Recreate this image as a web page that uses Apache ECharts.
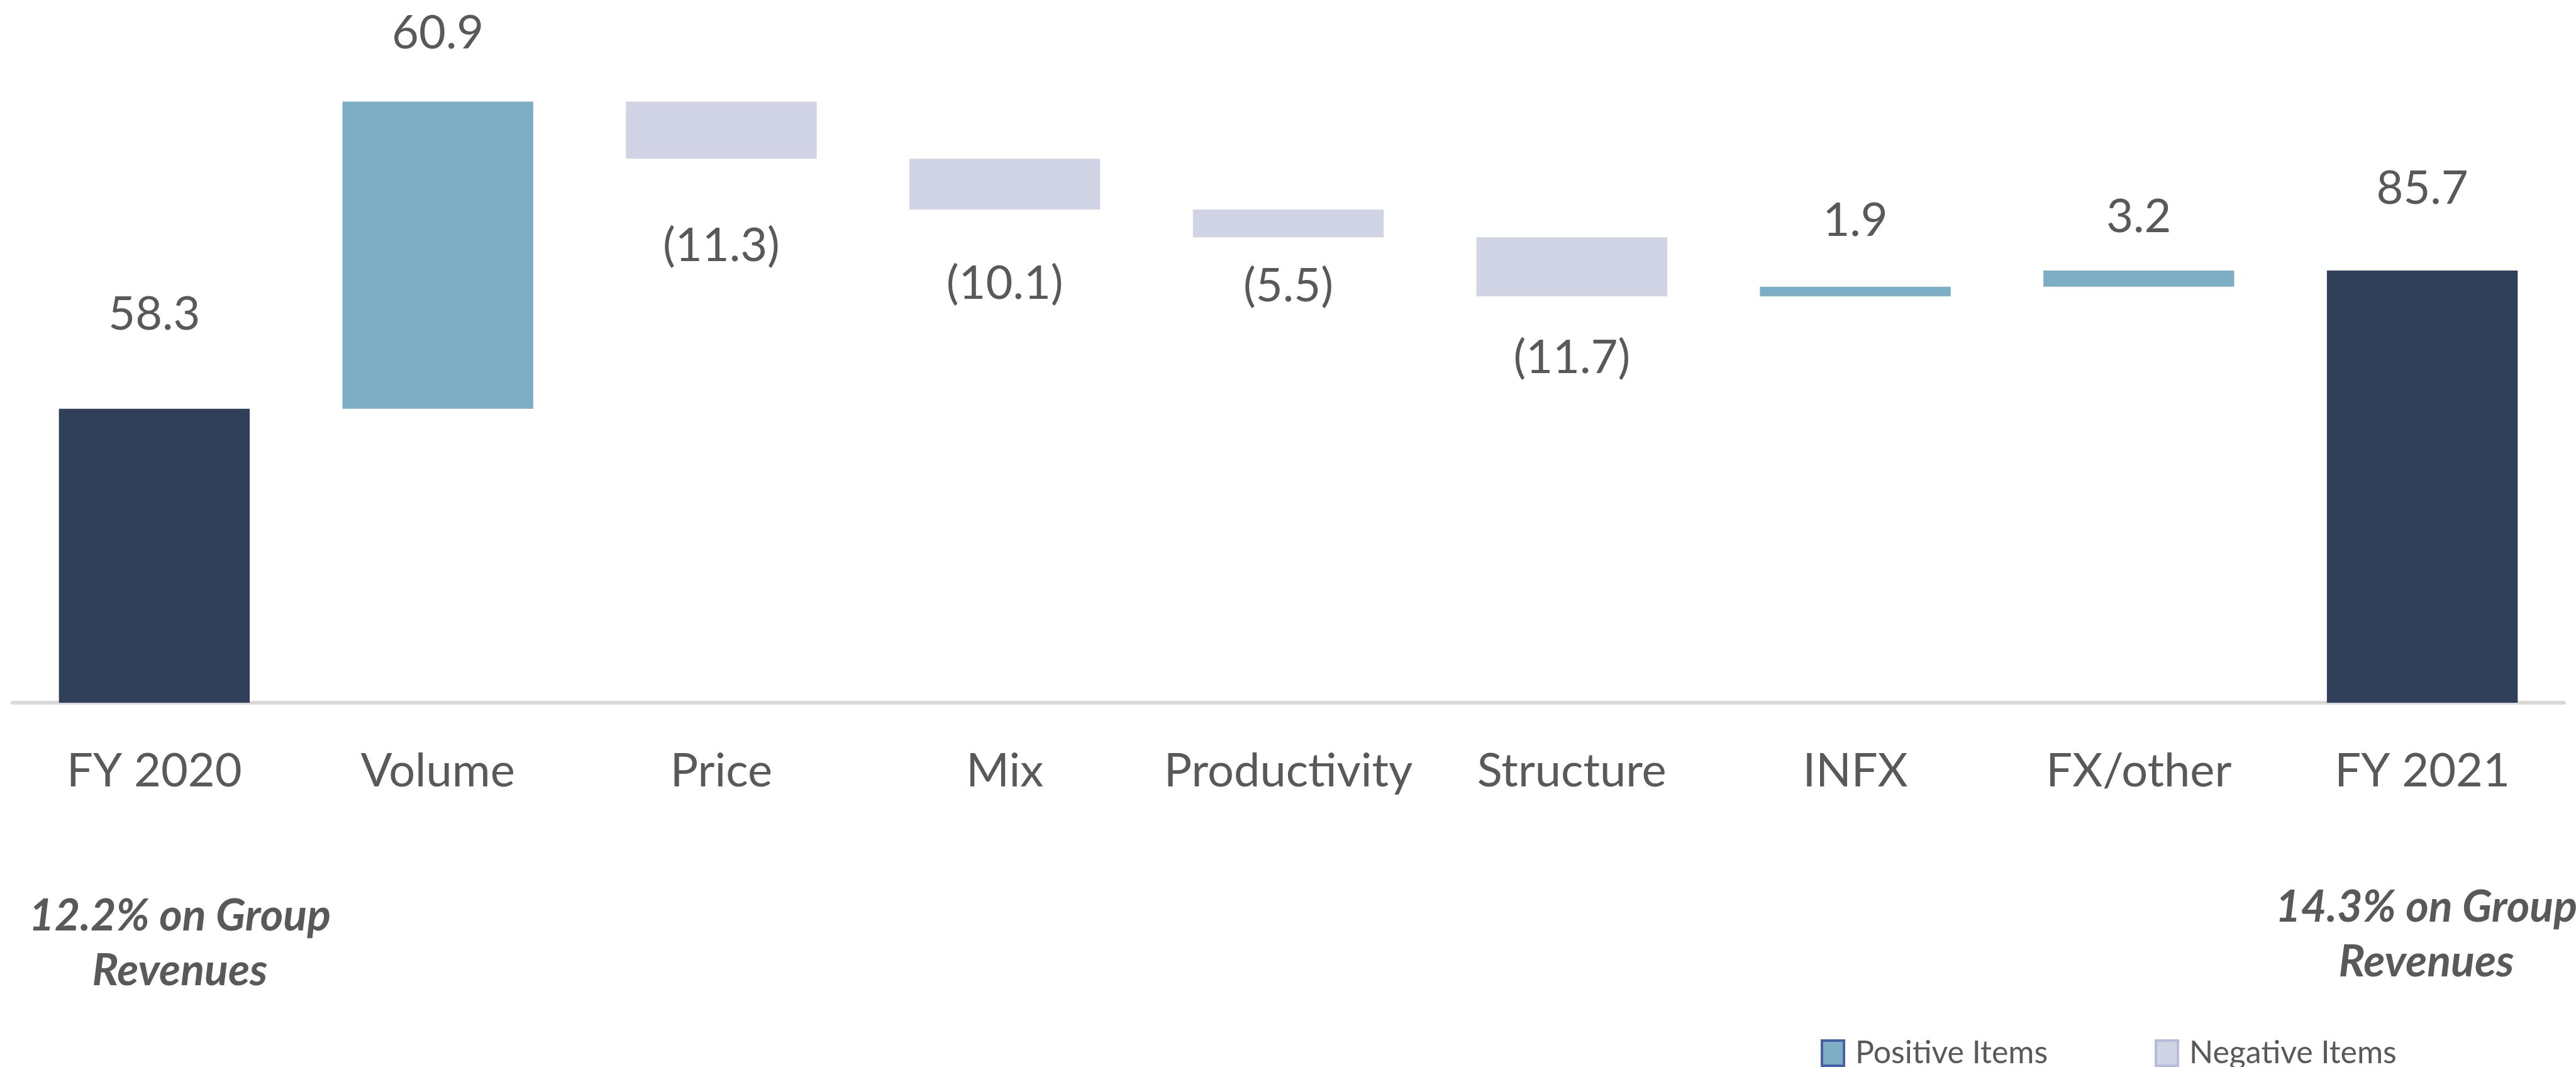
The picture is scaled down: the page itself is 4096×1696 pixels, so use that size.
<!DOCTYPE html>
<html>
<head>
<meta charset="utf-8">
<script src="https://cdn.jsdelivr.net/npm/echarts@6/dist/echarts.min.js"></script>
<style>
  html, body { margin: 0; padding: 0; background: #fff; }
  #chart { width: 4096px; height: 1696px; }
</style>
</head>
<body>
<div id="chart"></div>
<script>
// categories and values of the bridge
var categories = ['FY 2020', 'Volume', 'Price', 'Mix', 'Productivity', 'Structure', 'INFX', 'FX/other', 'FY 2021'];
var changes = [58.3, 60.9, -11.3, -10.1, -5.5, -11.7, 1.9, 3.2, 85.7];
var isTotal = [true, false, false, false, false, false, false, false, true];
var notes = ['12.2% on Group\nRevenues', '14.3% on Group\nRevenues'];

// label gap to bar edge (px), per bar
var labelDist = [113, 71, 102, 81, 41, 61, 68, 48, 93];

var TXT = '#595959';
var FONT = 'Lato';

// build the stacks
var base = [], pos = [], neg = [], tot = [];
var running = 0;
for (var i = 0; i < changes.length; i++) {
    var v = changes[i];
    var lbl = { distance: labelDist[i] };
    if (isTotal[i]) {
        running = v;
        base.push(0);
        tot.push({ value: v, label: lbl });
        pos.push('-'); neg.push('-');
    } else if (v >= 0) {
        base.push(running);
        running += v;
        pos.push({ value: v, label: lbl });
        neg.push('-'); tot.push('-');
    } else {
        running += v;
        base.push(running);
        neg.push({ value: -v, label: lbl });
        pos.push('-'); tot.push('-');
    }
}

var myChart = echarts.init(document.getElementById('chart'));
var labelCommon = {
    show: true,
    fontFamily: FONT,
    fontSize: 74,
    lineHeight: 74,
    color: TXT
};

var option = {
    animation: false,
    grid: { left: 20, right: 19, top: 75, bottom: 579, containLabel: false },
    legend: {
        left: 2890,
        top: 1644,
        itemWidth: 35,
        itemHeight: 40,
        itemGap: 170,
        icon: 'rect',
        selectedMode: false,
        textStyle: { fontFamily: FONT, fontSize: 50, color: TXT, padding: [0, 0, 0, 13] },
        data: [
            { name: 'Positive Items', itemStyle: { color: '#7eaec6', borderColor: '#4661a5', borderWidth: 4 } },
            { name: 'Negative Items', itemStyle: { color: '#d0d4e5', borderColor: '#b6bcd9', borderWidth: 4 } }
        ]
    },
    xAxis: {
        type: 'category',
        data: categories,
        axisLine: { show: true, lineStyle: { color: '#d9d9d9', width: 6 } },
        axisTick: { show: false },
        axisLabel: {
            margin: 72,
            fontFamily: FONT,
            fontSize: 74,
            lineHeight: 74,
            color: TXT,
            interval: 0
        }
    },
    yAxis: {
        type: 'value',
        min: 0,
        max: 130,
        show: false,
        splitLine: { show: false }
    },
    series: [
        {
            name: 'base',
            type: 'bar',
            stack: 'wf',
            barWidth: '67.3%',
            itemStyle: { color: 'transparent' },
            emphasis: { disabled: true },
            data: base
        },
        {
            name: 'Positive Items',
            type: 'bar',
            stack: 'wf',
            itemStyle: { color: '#7eaec6' },
            label: Object.assign({ position: 'top', formatter: function (p) { return p.value.toFixed(1); } }, labelCommon),
            data: pos
        },
        {
            name: 'Negative Items',
            type: 'bar',
            stack: 'wf',
            itemStyle: { color: '#d0d4e5' },
            label: Object.assign({ position: 'bottom', formatter: function (p) { return '(' + p.value.toFixed(1) + ')'; } }, labelCommon),
            data: neg
        },
        {
            name: 'Total',
            type: 'bar',
            stack: 'wf',
            itemStyle: { color: '#31405a' },
            label: Object.assign({ position: 'top', formatter: function (p) { return p.value.toFixed(1); } }, labelCommon),
            data: tot
        }
    ],
    graphic: [
        {
            type: 'text',
            x: 286,
            y: 1413,
            style: {
                text: notes[0],
                align: 'center',
                verticalAlign: 'top',
                font: 'italic bold 70px Lato',
                lineHeight: 87,
                fill: TXT
            }
        },
        {
            type: 'text',
            x: 3858,
            y: 1399,
            style: {
                text: notes[1],
                align: 'center',
                verticalAlign: 'top',
                font: 'italic bold 70px Lato',
                lineHeight: 87,
                fill: TXT
            }
        }
    ]
};

myChart.setOption(option);
window.addEventListener('resize', function () {
    myChart.resize();
});
</script>
</body>
</html>
